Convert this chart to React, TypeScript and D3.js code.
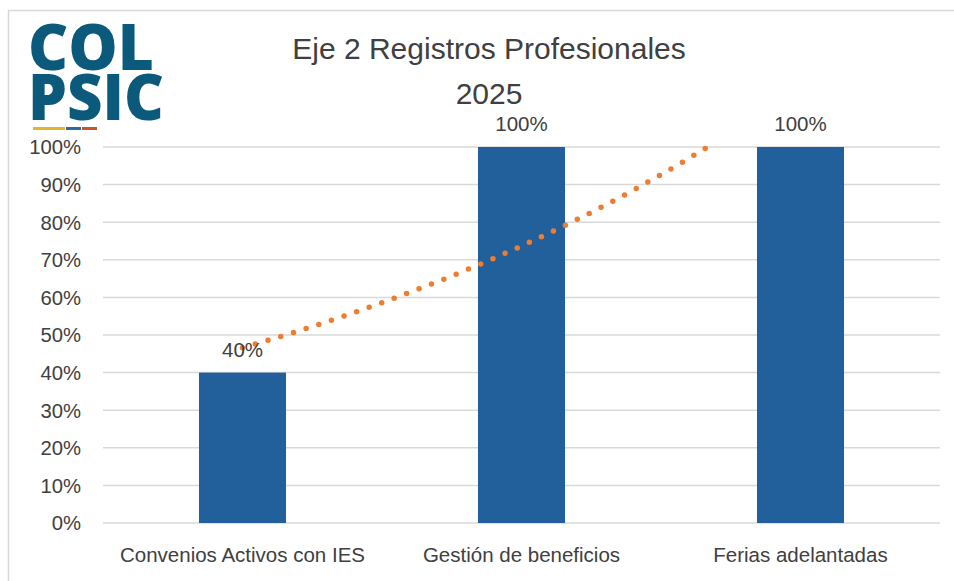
import React, { useEffect, useRef } from 'react'
import * as d3 from 'd3'

const categories = ['Convenios Activos con IES', 'Gestión de beneficios', 'Ferias adelantadas']
const values = [40, 100, 100]
const yTicks = [0, 10, 20, 30, 40, 50, 60, 70, 80, 90, 100]
const titleLines = ['Eje 2 Registros Profesionales', '2025']

const W = 954
const H = 581
const FONT = '"Liberation Sans", Arial, sans-serif'

const App = () => {
  const ref = useRef<SVGSVGElement>(null)

  useEffect(() => {
    document.body.style.margin = '0'
    const svg = d3.select(ref.current)
    svg.selectAll('*').remove()

    const plot = { left: 103, right: 940, top: 147, bottom: 523 }

    // chart frame
    svg.append('rect')
      .attr('x', 8.5).attr('y', 10.5)
      .attr('width', 960).attr('height', 600)
      .attr('fill', '#fff').attr('stroke', '#d9d9d9').attr('stroke-width', 1.5)

    const x = d3.scaleBand().domain(categories).range([plot.left, plot.right])
    const y = d3.scaleLinear().domain([0, 100]).range([plot.bottom, plot.top])
    const barW = x.bandwidth() * 0.312

    // gridlines
    svg.append('g').selectAll('line').data(yTicks).join('line')
      .attr('x1', plot.left).attr('x2', plot.right)
      .attr('y1', d => y(d)).attr('y2', d => y(d))
      .attr('stroke', '#d9d9d9').attr('stroke-width', 1.5)

    // y tick labels
    svg.append('g').selectAll('text').data(yTicks).join('text')
      .attr('x', 81).attr('y', d => y(d))
      .attr('dy', '0.36em')
      .attr('text-anchor', 'end')
      .attr('font-family', FONT).attr('font-size', 20.3).attr('fill', '#404040')
      .text(d => d + '%')

    // bars
    svg.append('g').selectAll('rect').data(values).join('rect')
      .attr('x', (d, i) => x(categories[i])! + x.bandwidth() / 2 - barW / 2)
      .attr('y', d => y(d))
      .attr('width', barW)
      .attr('height', d => plot.bottom - y(d))
      .attr('fill', '#22609c')

    // category labels
    svg.append('g').selectAll('text').data(categories).join('text')
      .attr('x', d => x(d)! + x.bandwidth() / 2)
      .attr('y', 562)
      .attr('text-anchor', 'middle')
      .attr('font-family', FONT).attr('font-size', 20.5).attr('fill', '#404040')
      .text(d => d)

    // exponential trendline (least squares on ln y)
    const xs = values.map((_, i) => i + 1)
    const ly = values.map(v => Math.log(v))
    const mx = d3.mean(xs)!
    const my = d3.mean(ly)!
    const b = d3.sum(xs, (xi, i) => (xi - mx) * (ly[i] - my)) / d3.sum(xs, xi => (xi - mx) ** 2)
    const a = my - b * mx
    const tx = d3.scaleLinear().domain([1, categories.length])
      .range([x(categories[0])! + x.bandwidth() / 2, x(categories[categories.length - 1])! + x.bandwidth() / 2])
    const pts = d3.range(1, categories.length + 0.001, 0.02).map(t => [tx(t), y(Math.exp(a + b * t))] as [number, number])

    svg.append('clipPath').attr('id', 'plotclip')
      .append('rect').attr('x', plot.left).attr('y', plot.top - 2)
      .attr('width', plot.right - plot.left).attr('height', plot.bottom - plot.top + 2)

    svg.append('path')
      .attr('d', d3.line()(pts))
      .attr('clip-path', 'url(#plotclip)')
      .attr('fill', 'none')
      .attr('stroke', '#ed7d31')
      .attr('stroke-width', 5.5)
      .attr('stroke-linecap', 'round')
      .attr('stroke-dasharray', '0 13.3')

    // data labels
    svg.append('g').selectAll('text').data(values).join('text')
      .attr('x', (d, i) => x(categories[i])! + x.bandwidth() / 2)
      .attr('y', d => y(d) - 16)
      .attr('text-anchor', 'middle')
      .attr('font-family', FONT).attr('font-size', 20.5).attr('fill', '#404040')
      .text(d => d + '%')

    // title
    svg.append('g').selectAll('text').data(titleLines).join('text')
      .attr('x', 489)
      .attr('y', (d, i) => 59 + i * 45)
      .attr('text-anchor', 'middle')
      .attr('font-family', FONT).attr('font-size', 30).attr('fill', '#404040')
      .text(d => d)

    // logo
    const logo = svg.append('g')
    const logoText = logo.append('text')
      .attr('font-family', '"Open Sans", sans-serif').attr('font-weight', 800)
      .attr('font-size', 64).attr('fill', '#0b5a7c')
    logoText.append('tspan')
      .attr('x', 28).attr('y', 70)
      .attr('textLength', 126).attr('lengthAdjust', 'spacingAndGlyphs')
      .text('COL')
    logoText.append('tspan')
      .attr('x', 28).attr('y', 120)
      .attr('textLength', 136).attr('lengthAdjust', 'spacingAndGlyphs')
      .text('PSIC')
    const stripes = [
      { x: 33, w: 32, c: '#e2b52b' },
      { x: 66, w: 15, c: '#2d6a9f' },
      { x: 82, w: 15, c: '#d0502e' },
    ]
    logo.selectAll('rect').data(stripes).join('rect')
      .attr('x', d => d.x).attr('y', 127).attr('width', d => d.w).attr('height', 3)
      .attr('fill', d => d.c)
  }, [])

  return <svg ref={ref} width={W} height={H} style={{ display: 'block' }} />
}

export default App
